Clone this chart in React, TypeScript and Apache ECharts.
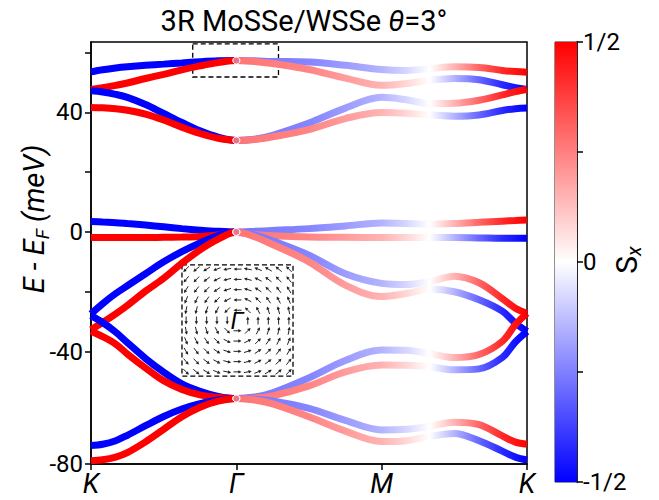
import { useEffect, useRef } from 'react';
import * as echarts from 'echarts';

// ---------- data ----------
// path coordinate: K = 0, Γ = 1, M = 2, K = 3
const kPoints = [0, 0.08, 0.17, 0.25, 0.375, 0.5, 0.625, 0.75, 0.875, 1, 1.125, 1.25, 1.5, 1.75, 2, 2.17, 2.33, 2.5, 2.67, 2.83, 2.92, 3];
const kTickValues = [0, 1, 2, 3];
const kTickLabels = ['K', 'Γ', 'M', 'K'];

// band energies (meV) along kPoints
const bandA = [53.5, 54.2, 54.8, 55.2, 55.7, 56.1, 56.5, 56.9, 57.2, 57.3, 57.2, 57.0, 56.8, 55.7, 54.3, 54.0, 54.6, 55.2, 55.0, 54.0, 53.6, 53.4];
const bandB = [47.6, 48.2, 49.0, 49.8, 51.3, 52.7, 54.2, 55.5, 56.6, 57.3, 57.0, 56.3, 54.3, 51.4, 49.0, 49.6, 50.7, 51.3, 50.9, 49.2, 48.2, 47.6];
const bandC = [47.2, 46.8, 46.0, 45.0, 42.6, 39.6, 36.6, 33.8, 31.7, 30.6, 31.0, 32.3, 36.4, 41.4, 45.0, 44.2, 42.9, 43.0, 44.0, 45.8, 46.9, 47.7];
const bandD = [41.6, 41.5, 41.2, 40.7, 39.4, 37.4, 35.0, 32.9, 31.3, 30.6, 30.9, 31.8, 34.2, 37.9, 39.9, 39.7, 39.1, 38.7, 39.1, 40.6, 41.2, 41.4];
const bandE1 = [3.5, 3.3, 3.1, 2.8, 2.3, 1.7, 1.1, 0.6, 0.2, 0, 0.2, 0.5, 1.1, 2.0, 3.0, 2.8, 2.6, 2.8, 3.2, 3.6, 3.8, 4.0];
const bandE2 = [-1.9, -1.9, -1.9, -1.9, -1.9, -1.8, -1.7, -1.5, -1.0, -0.2, -0.9, -1.3, -1.7, -1.8, -1.9, -1.9, -1.9, -1.9, -2.0, -2.1, -2.1, -2.1];
const bandG1 = [-27.4, -24.0, -20.6, -18.0, -14.0, -10.0, -6.6, -3.7, -1.2, 0, -1.0, -3.0, -7.8, -14.0, -17.2, -17.6, -16.6, -14.8, -17.0, -22.3, -25.5, -27.2];
const bandG2 = [-32.7, -30.3, -27.4, -24.6, -19.8, -15.5, -10.5, -6.0, -2.4, 0, -1.6, -4.2, -10.0, -17.8, -21.6, -20.6, -19.2, -20.0, -22.7, -26.5, -30.5, -33.3];
const bandH1 = [-28.0, -30.3, -33.5, -37.0, -42.3, -46.9, -50.8, -53.3, -55.0, -55.7, -55.2, -53.8, -48.8, -43.0, -39.5, -39.6, -40.7, -42.0, -41.0, -36.6, -31.0, -27.2];
const bandH2 = [-33.2, -35.0, -37.5, -40.8, -45.5, -49.8, -52.7, -54.5, -55.4, -55.7, -55.5, -54.8, -51.5, -46.8, -44.5, -44.6, -45.1, -46.1, -45.8, -42.0, -36.8, -33.3];
const bandI1 = [-71.4, -71.0, -69.8, -68.0, -64.8, -61.7, -59.2, -57.4, -56.2, -55.7, -55.9, -56.5, -59.0, -63.0, -66.2, -66.0, -65.0, -63.6, -64.4, -68.2, -70.3, -71.0];
const bandI2 = [-76.5, -76.2, -75.3, -73.8, -70.2, -66.0, -61.8, -58.6, -56.6, -55.7, -56.2, -57.5, -61.8, -66.6, -70.1, -69.8, -68.4, -67.4, -69.8, -73.3, -75.3, -76.3];

const bands = [bandA, bandB, bandC, bandD, bandE1, bandE2, bandG1, bandG2, bandH1, bandH2, bandI1, bandI2];
// sign of S_x on the K–Γ segment (+1 red, -1 blue)
const bandSigns = [-1, 1, -1, 1, -1, 1, -1, 1, -1, 1, -1, 1];

// S_x magnitude on K–Γ, and profile on Γ–M–K (relative to band sign)
const sxLeft = 0.5;
const sxRightK = [1, 1.5, 2, 2.17, 2.33, 2.5, 2.67, 2.83, 3];
const sxRight = [0.27, 0.24, 0.15, 0.08, 0, -0.15, -0.3, -0.42, -0.5];

// y axis
const yMin = -77.6;
const yMax = 63.5;
const yTickValues = [yMin, -40, -20, 0, 20, 40, 60];
const yLabelValues = [yMin, -40, 0, 40];
const yLabelTexts = ['-80', '-40', '0', '40'];

// colorbar
const cbTickValues = [-0.5, -0.25, 0, 0.25, 0.5];
const cbLabelValues = [-0.5, 0, 0.5];
const cbLabelTexts = ['-1/2', '0', '1/2'];

// inset spin texture: arrow directions (deg, counter-clockwise from +x), rows top→bottom, cols left→right
const insetX = [-5, -4, -3, -2, -1, 0, 1, 2, 3, 4, 5];
const insetY = [5, 4, 3, 2, 1, 0, -1, -2, -3, -4, -5];
const insetAngles: (number | null)[][] = [
  [225, 219, 211, 202, 191, 180, 169, 158, 149, 141, 135],
  [231, 225, 217, 207, 194, 180, 166, 153, 143, 135, 129],
  [239, 233, 225, 214, 198, 180, 162, 146, 135, 127, 121],
  [248, 243, 236, 225, 207, 180, 153, 135, 124, 117, 112],
  [259, 256, 252, 243, 225, 180, 135, 117, 108, 104, 101],
  [270, 270, 270, 270, 270, null, 90, 90, 90, 90, 90],
  [281, 284, 288, 297, 315, 0, 45, 63, 72, 76, 79],
  [292, 297, 304, 315, 333, 0, 27, 45, 56, 63, 68],
  [301, 307, 315, 326, 342, 0, 18, 34, 45, 53, 59],
  [309, 315, 323, 333, 346, 0, 14, 27, 37, 45, 51],
  [315, 321, 329, 338, 349, 0, 11, 22, 31, 39, 45],
];

// ---------- helpers ----------
const FONT = 'Roboto, "DejaVu Sans", sans-serif';

function bwr(s: number): string {
  const t = Math.max(-1, Math.min(1, s / 0.5));
  if (t < 0) {
    const v = Math.round(255 * (1 + t));
    return `rgb(${v},${v},255)`;
  }
  const v = Math.round(255 * (1 - t));
  return `rgb(255,${v},${v})`;
}

function bandGradient(sign: number) {
  const kMax = kPoints[kPoints.length - 1];
  const stops: { offset: number; color: string }[] = [
    { offset: 0, color: bwr(sxLeft * sign) },
    { offset: 1 / kMax, color: bwr(sxLeft * sign) },
  ];
  sxRightK.forEach((k, i) => stops.push({ offset: k / kMax, color: bwr(sxRight[i] * sign) }));
  return new echarts.graphic.LinearGradient(0, 0, 1, 0, stops);
}

function buildOption() {
  const lineSeries = bands.map((e, bi) => ({
    type: 'line',
    xAxisIndex: 0,
    yAxisIndex: 0,
    data: kPoints.map((k, i) => [k, e[i]]),
    showSymbol: false,
    smooth: 0.35,
    silent: true,
    lineStyle: { width: 7, color: bandGradient(bandSigns[bi]) },
    z: 2,
    ...(bi === 0
      ? {
          markArea: {
            silent: true,
            label: { show: false },
            itemStyle: { color: 'rgba(0,0,0,0)', borderColor: '#000', borderWidth: 1.3, borderType: [5, 3] },
            data: [
              [{ coord: [0.7, 62.9] }, { coord: [1.29, 51.8] }],
              [{ coord: [0.626, -11.0] }, { coord: [1.39, -48.2] }],
            ],
          },
        }
      : {}),
  }));

  const gammaIdx = kPoints.indexOf(1);
  const gammaDots = {
    type: 'scatter',
    xAxisIndex: 0,
    yAxisIndex: 0,
    silent: true,
    symbolSize: 7,
    z: 3,
    data: bands.map((e, bi) => ({
      value: [1, e[gammaIdx]],
      itemStyle: { color: bwr(sxRight[0] * bandSigns[bi]), borderColor: '#fff', borderWidth: 1 },
    })),
  };

  const colorbar = {
    type: 'custom',
    xAxisIndex: 1,
    yAxisIndex: 1,
    silent: true,
    data: [[0, 0]],
    renderItem: (_p: any, api: any) => {
      const p0 = api.coord([0, 0.5]);
      const p1 = api.coord([1, -0.5]);
      return {
        type: 'rect',
        shape: { x: p0[0], y: p0[1], width: p1[0] - p0[0], height: p1[1] - p0[1] },
        style: {
          fill: new echarts.graphic.LinearGradient(0, 0, 0, 1, [
            { offset: 0, color: bwr(0.5) },
            { offset: 0.5, color: bwr(0) },
            { offset: 1, color: bwr(-0.5) },
          ]),
        },
      };
    },
  };

  const arrowData: number[][] = [];
  insetAngles.forEach((row, j) =>
    row.forEach((a, i) => {
      if (a !== null) arrowData.push([insetX[i], insetY[j], a]);
    })
  );
  const arrows = {
    type: 'custom',
    xAxisIndex: 2,
    yAxisIndex: 2,
    silent: true,
    data: arrowData,
    z: 5,
    renderItem: (_p: any, api: any) => {
      const c = api.coord([api.value(0), api.value(1)]);
      const a = (api.value(2) * Math.PI) / 180;
      const L = 8;
      const ux = Math.cos(a);
      const uy = -Math.sin(a);
      const nx = -uy;
      const ny = ux;
      const tail = [c[0] - (ux * L) / 2, c[1] - (uy * L) / 2];
      const tip = [c[0] + (ux * L) / 2, c[1] + (uy * L) / 2];
      const h = 3.2;
      const w = 1.7;
      return {
        type: 'group',
        children: [
          {
            type: 'line',
            shape: { x1: tail[0], y1: tail[1], x2: tip[0] - ux * h * 0.6, y2: tip[1] - uy * h * 0.6 },
            style: { stroke: '#222', lineWidth: 1 },
          },
          {
            type: 'polygon',
            shape: {
              points: [
                tip,
                [tip[0] - ux * h + nx * w, tip[1] - uy * h + ny * w],
                [tip[0] - ux * h - nx * w, tip[1] - uy * h - ny * w],
              ],
            },
            style: { fill: '#222' },
          },
        ],
      };
    },
  };

  return {
    animation: false,
    backgroundColor: '#fff',
    grid: [
      { left: 91, top: 42, width: 436, height: 422, show: true, borderColor: '#000', borderWidth: 1.5, backgroundColor: 'transparent' },
      { left: 555, top: 42, width: 22, height: 440, show: true, borderColor: '#222', borderWidth: 1, backgroundColor: 'transparent' },
      { left: 182, top: 265, width: 111, height: 111 },
    ],
    xAxis: [
      {
        gridIndex: 0,
        type: 'value',
        min: 0,
        max: 3,
        splitLine: { show: false },
        axisLine: { onZero: false, lineStyle: { color: '#000', width: 1.5 } },
        axisTick: { customValues: kTickValues, length: 6, lineStyle: { color: '#000', width: 1.5 } },
        axisLabel: {
          customValues: kTickValues,
          formatter: (v: number) => kTickLabels[kTickValues.indexOf(v)] ?? '',
          fontSize: 27,
          fontStyle: 'italic',
          fontFamily: FONT,
          color: '#000',
          margin: 6,
        },
      },
      { gridIndex: 1, type: 'value', min: 0, max: 1, show: false },
      { gridIndex: 2, type: 'value', min: -5.4, max: 5.4, show: false },
    ],
    yAxis: [
      {
        gridIndex: 0,
        type: 'value',
        min: yMin,
        max: yMax,
        splitLine: { show: false },
        axisLine: { onZero: false, lineStyle: { color: '#000', width: 1.5 } },
        axisTick: { customValues: yTickValues, length: 6, lineStyle: { color: '#000', width: 1.5 } },
        axisLabel: {
          customValues: yLabelValues,
          formatter: (v: number) => yLabelTexts[yLabelValues.indexOf(v)] ?? '',
          fontSize: 24,
          fontFamily: FONT,
          color: '#000',
          margin: 8,
        },
      },
      {
        gridIndex: 1,
        type: 'value',
        min: -0.5,
        max: 0.5,
        position: 'right',
        splitLine: { show: false },
        axisLine: { show: true, onZero: false, lineStyle: { color: '#000', width: 1.5 } },
        axisTick: { customValues: cbTickValues, length: 6, lineStyle: { color: '#000', width: 1.5 } },
        axisLabel: {
          customValues: cbLabelValues,
          formatter: (v: number) => cbLabelTexts[cbLabelValues.indexOf(v)] ?? '',
          fontSize: 24,
          fontFamily: FONT,
          color: '#000',
          margin: 6,
        },
      },
      { gridIndex: 2, type: 'value', min: -5.4, max: 5.4, show: false },
    ],
    graphic: [
      {
        type: 'text',
        x: 304,
        y: 21,
        z: 10,
        style: {
          text: '3R MoSSe/WSSe {i|θ}=3°',
          font: `29px ${FONT}`,
          fill: '#000',
          align: 'center',
          verticalAlign: 'middle',
          textAlign: 'center',
          textVerticalAlign: 'middle',
          rich: { i: { fontStyle: 'italic', fontSize: 29, fontFamily: FONT } },
        },
      },
      {
        type: 'text',
        x: 34,
        y: 219,
        rotation: Math.PI / 2,
        z: 10,
        style: {
          text: '{a|E - E}{b|F}{a| (meV)}',
          fill: '#000',
          align: 'center',
          verticalAlign: 'middle',
          textAlign: 'center',
          textVerticalAlign: 'middle',
          rich: {
            a: { fontSize: 29, fontStyle: 'italic', fontFamily: FONT, lineHeight: 36, verticalAlign: 'middle' },
            b: { fontSize: 19, fontStyle: 'italic', fontFamily: FONT, lineHeight: 36, verticalAlign: 'bottom', padding: [12, 0, 0, 0] },
          },
        },
      },
      {
        type: 'text',
        x: 626,
        y: 260,
        rotation: Math.PI / 2,
        z: 10,
        style: {
          text: '{a|S}{b|x}',
          fill: '#000',
          align: 'center',
          verticalAlign: 'middle',
          textAlign: 'center',
          textVerticalAlign: 'middle',
          rich: {
            a: { fontSize: 30, fontFamily: FONT, lineHeight: 36, verticalAlign: 'middle' },
            b: { fontSize: 20, fontStyle: 'italic', fontFamily: FONT, lineHeight: 36, verticalAlign: 'bottom', padding: [12, 0, 0, 0] },
          },
        },
      },
      {
        type: 'text',
        x: 237,
        y: 321,
        z: 10,
        style: {
          text: 'Γ',
          font: `italic 24px ${FONT}`,
          fill: '#000',
          align: 'center',
          verticalAlign: 'middle',
          textAlign: 'center',
          textVerticalAlign: 'middle',
        },
      },
    ],
    series: [...lineSeries, gammaDots, colorbar, arrows],
  };
}

export default function App() {
  const ref = useRef<HTMLDivElement>(null);
  useEffect(() => {
    if (!ref.current) return;
    const chart = echarts.init(ref.current, null, { renderer: 'svg' });
    chart.setOption(buildOption() as any);
    return () => chart.dispose();
  }, []);
  return <div ref={ref} style={{ position: 'fixed', left: 0, top: 0, width: 659, height: 500 }} />;
}
